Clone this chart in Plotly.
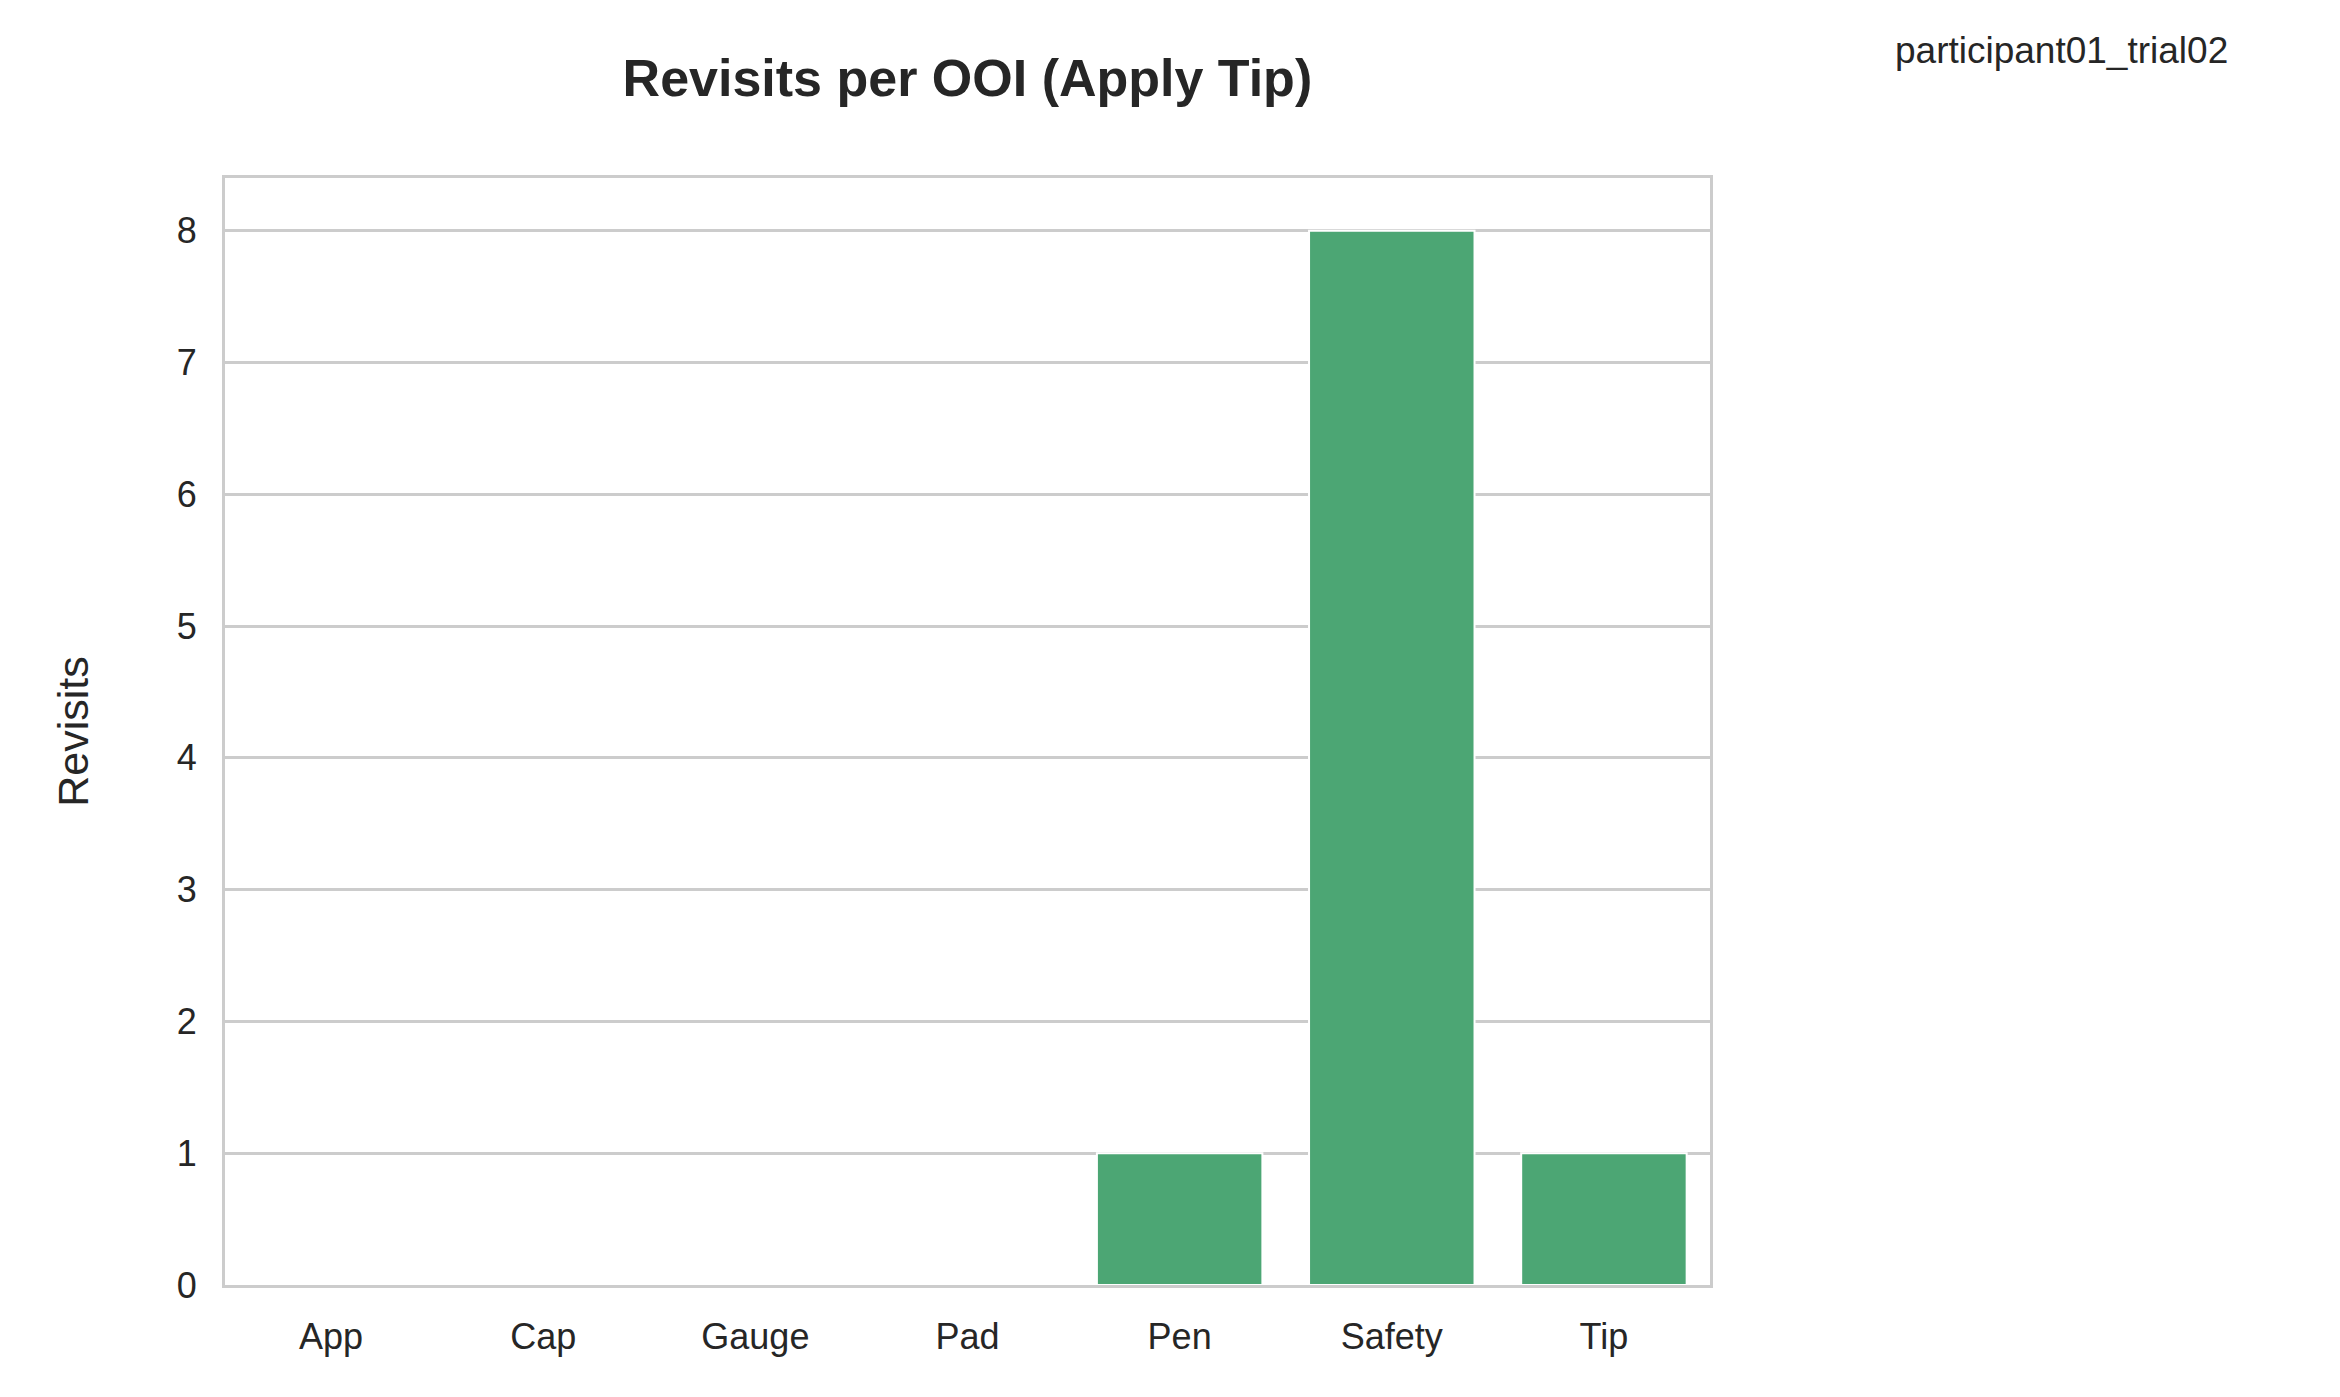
import plotly.graph_objects as go

categories = ["App", "Cap", "Gauge", "Pad", "Pen", "Safety", "Tip"]
revisits = [0, 0, 0, 0, 1, 8, 1]

fig = go.Figure()
fig.add_trace(go.Bar(x=categories, y=revisits, width=0.78,
                     marker=dict(color="#4ca674", line=dict(color="white", width=2))))

axis_line = dict(showline=True, linecolor="#cccccc", linewidth=3, mirror=True,
                 ticks="", zeroline=False)
fig.update_layout(
    width=2340, height=1397,
    paper_bgcolor="white", plot_bgcolor="white",
    font=dict(family="Liberation Sans, Arial", size=36, color="#262626"),
    title=dict(text="<b>Revisits per OOI (Apply Tip)</b>", x=0.41, xanchor="center",
               y=0.95, yanchor="middle", font=dict(size=52)),
    margin=dict(l=217, r=638, t=170, b=120),
    showlegend=False,
    xaxis=dict(showgrid=False, range=[-0.5, 6.5], **axis_line),
    yaxis=dict(showgrid=True, gridcolor="#cccccc", gridwidth=2.5, range=[0, 8.4],
               dtick=1, title=dict(text="Revisits", standoff=75), **axis_line),
    annotations=[dict(text="participant01_trial02", xref="paper", yref="paper",
                      x=1.237, y=1.115, xanchor="center", yanchor="middle",
                      showarrow=False, font=dict(size=37))],
)
fig.update_yaxes(ticklabelstandoff=18)
fig.update_xaxes(ticklabelstandoff=18)

fig.write_html("out.html")
